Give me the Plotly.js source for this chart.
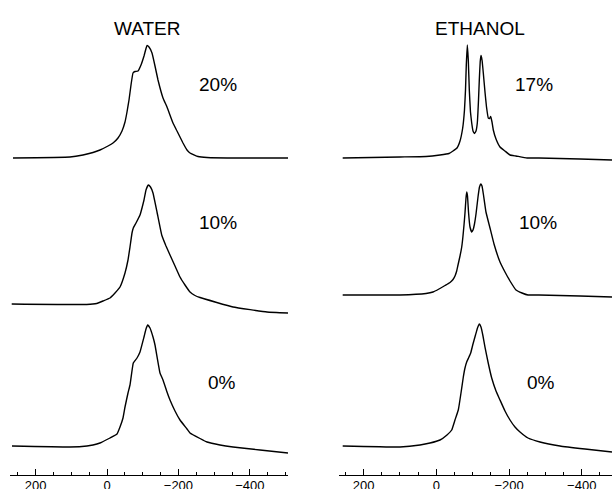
<!DOCTYPE html>
<html>
<head>
<meta charset="utf-8">
<script src="https://cdn.plot.ly/plotly-3.0.1.min.js"></script>
<style>html,body{margin:0;padding:0;background:#fff;}#chart{width:612px;height:489px;}</style>
</head>
<body>
<div id="chart"></div>
<script>
// Chemical shift axis values and intensities (arbitrary units above each panel's floor)
const waterTopX = [263.2,103.6,67.2,39.2,19.6,-2.8,-16.8,-30.8,-42,-50.4,-56,-61.6,-67.2,-72.8,-78.4,-86.8,-95.2,-103.6,-109.2,-112,-117.6,-126,-134.4,-142.8,-156.8,-168,-184.8,-196,-212.8,-224,-232.4,-254.8,-280,-372.4,-506.8];
const waterTopY = [12,13,15,17.5,20,24,27,32,39,48,58,70,85,97,98.5,99,105,114,121.5,124.5,123,117,104,90,72,63,47,39,27,20,17,13.5,12.5,12,12];

const waterMidX = [266.8,56.8,28.8,11.2,-8.4,-22.4,-36.4,-50.4,-58.8,-64.4,-70,-73.6,-81.2,-92.4,-98,-103.6,-109.2,-115.6,-121.8,-128.8,-140,-153.2,-165.2,-176.4,-190.4,-204.4,-218.4,-232.4,-246.4,-260.4,-352.8,-448,-506.8];
const waterMidY = [11,10.5,11.5,14,17,22,28,42,55,68,82,87,92,100,107,115,125,130,128,122,103,80,69,60,49,38,30,23,19.5,17.5,8,3,2];

const waterBotX = [266,103.6,56,39.2,19.6,-8.4,-28,-36.4,-44.8,-50.4,-58.8,-64.4,-73.6,-84,-92.4,-103.6,-109.2,-114,-120.4,-128.8,-134.4,-148.4,-156.8,-168,-176.4,-190.4,-204.4,-224,-232.4,-260.4,-280,-316.4,-352.8,-428.4,-506.8];
const waterBotY = [14,13,14,15,17,22,26,33,42,53,67,75,97,102,108,123,131,135,132,123,115,87,80,68,60,49,40,31,27,21.5,18,15,13,10,7];

const ethTopX = [257.4,99.8,28.3,-10.2,-34.9,-45.9,-56.9,-65.2,-72.6,-77.5,-80.3,-82.5,-85.3,-88,-90.8,-94,-97.4,-101,-105,-109.2,-112.8,-116.1,-118.3,-120.7,-122.9,-125.7,-129.3,-133.9,-138.1,-143,-146.3,-149.6,-153.2,-156.8,-164.2,-175.2,-188.9,-202.7,-219.2,-249.4,-282.4,-395.2,-483.2];
const ethTopY = [12,13,13.5,15,16.5,19,22,29,42,60,80,105,125,110,80,58,47,39,36.5,39,47,70,90,108,114.5,110,97,78,63,52,51.5,53.5,48,40,31,23,19,15,14,12,12,11,10];

const ethMidX = [257.4,99.8,28.3,9.1,-7.4,-23.9,-37.7,-46,-51.4,-56.1,-59.7,-65.2,-69.9,-73.4,-76.2,-78.9,-81.7,-83.6,-85.8,-88.6,-92.7,-97.4,-101,-105,-109.2,-114.7,-118.8,-122.1,-125.7,-129.8,-136.6,-147.7,-158.7,-175.2,-188.9,-202.7,-219.2,-235.7,-252.2,-282.4,-395.2,-483.2];
const ethMidY = [20,20,21.5,23,26,29.5,32.5,35.5,39,44,50,59,68,79,90,102,117,123,119,103,88,83,85,91,101,118,128,131,129,120,103,87,71,53,43,34,25,22,20,20,19,18];

const ethBotX = [257.4,99.8,44.8,17.3,-10.2,-29.4,-42.4,-51.4,-60.5,-67.9,-74.3,-78.9,-83.6,-88.6,-94.6,-100.9,-107.8,-113.3,-118.3,-122.9,-128.4,-133.9,-142.2,-152.4,-164.2,-175.2,-188.9,-202.7,-216.4,-230.2,-252.2,-285.2,-340.2,-408.9,-483.2];
const ethBotY = [14,13,15,17,20,25,30,40,50,67,83,92,98,102,107,116,125,132,136,133,124,113,98,82,69,60,49,40,33,28,22,18,14,11,8];

const columnTitles = ["WATER", "ETHANOL"];
const waterLabels = ["20%", "10%", "0%"];
const ethanolLabels = ["17%", "10%", "0%"];
const tickVals = [200, 0, -200, -400];
const tickText = ["200", "0", "\u2212200", "\u2212400"];

const lineStyle = {color: "#000", width: 1.4, shape: "spline", smoothing: 0.3};
function tr(x, y, xa, ya) {
  return {x: x, y: y, xaxis: xa, yaxis: ya, type: "scatter", mode: "lines", line: lineStyle, hoverinfo: "none", showlegend: false};
}
const data = [
  tr(waterTopX, waterTopY, "x", "y"),
  tr(waterMidX, waterMidY, "x", "y3"),
  tr(waterBotX, waterBotY, "x", "y5"),
  tr(ethTopX, ethTopY, "x2", "y2"),
  tr(ethMidX, ethMidY, "x2", "y4"),
  tr(ethBotX, ethBotY, "x2", "y6")
];

const fontFam = "Liberation Sans, Arial, Helvetica, sans-serif";
function xax(domain, range) {
  return {
    domain: domain, range: range, anchor: "free", position: 0.0286,
    showline: true, linecolor: "#000", linewidth: 1,
    ticks: "inside", ticklen: 6, tickwidth: 1, tickcolor: "#000",
    tickmode: "array", tickvals: tickVals, ticktext: tickText,
    ticklabelstandoff: -2,
    minor: {dtick: 50, tick0: 0, ticks: "inside", ticklen: 3, tickwidth: 1, tickcolor: "#000", showgrid: false},
    showgrid: false, zeroline: false, automargin: false,
    tickfont: {family: fontFam, size: 13, color: "#000"}
  };
}
function yax(domain, anchor) {
  return {domain: domain, range: [0, 140], anchor: anchor, visible: false, showgrid: false, zeroline: false, automargin: false};
}
const rows = [[0.65235, 0.93865], [0.35583, 0.64213], [0.05930, 0.34560]];

const annotations = [];
const titleX = [0.2418, 0.7843];
columnTitles.forEach((t, i) => annotations.push({text: t, x: titleX[i], y: 0.9427, xref: "paper", yref: "paper", showarrow: false, xanchor: "center", yanchor: "middle", font: {family: fontFam, size: 19, color: "#000"}}));
const labY = [0.8282, 0.5440, 0.2168];
const wX = [0.3554, 0.3562, 0.3627];
const eX = [0.8725, 0.8791, 0.8840];
waterLabels.forEach((t, i) => annotations.push({text: t, x: wX[i], y: labY[i], xref: "paper", yref: "paper", showarrow: false, xanchor: "center", yanchor: "middle", font: {family: fontFam, size: 19, color: "#000"}}));
ethanolLabels.forEach((t, i) => annotations.push({text: t, x: eX[i], y: labY[i], xref: "paper", yref: "paper", showarrow: false, xanchor: "center", yanchor: "middle", font: {family: fontFam, size: 19, color: "#000"}}));

const layout = {
  width: 612, height: 489,
  margin: {l: 0, r: 0, t: 0, b: 0},
  paper_bgcolor: "#fff", plot_bgcolor: "rgba(0,0,0,0)",
  showlegend: false,
  xaxis: xax([0.01634, 0.4706], [271.6, -506.8]),
  xaxis2: xax([0.5539, 1.0], [267.6, -483.2]),
  yaxis: yax(rows[0], "x"),
  yaxis3: yax(rows[1], "x"),
  yaxis5: yax(rows[2], "x"),
  yaxis2: yax(rows[0], "x2"),
  yaxis4: yax(rows[1], "x2"),
  yaxis6: yax(rows[2], "x2"),
  annotations: annotations
};
Plotly.newPlot("chart", data, layout, {staticPlot: true, displayModeBar: false});
</script>
</body>
</html>
